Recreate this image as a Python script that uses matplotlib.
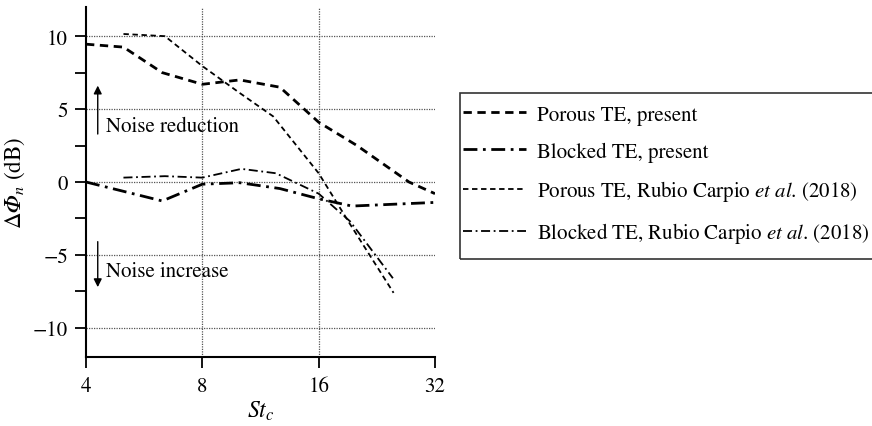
import matplotlib
matplotlib.use('Agg')
import matplotlib.pyplot as plt
from matplotlib.ticker import NullLocator, MultipleLocator
from matplotlib.patches import Rectangle

plt.rcParams['font.family'] = ['STIXGeneral', 'DejaVu Serif']
plt.rcParams['mathtext.fontset'] = 'stix'
plt.rcParams['font.size'] = 15

# porous / blocked TE, present measurements
st_porous = [4.0, 5.0, 6.3, 8.0, 10.0, 12.7, 16.0, 20.1, 27.4, 32.0]
dphi_porous = [9.45, 9.25, 7.5, 6.7, 7.0, 6.5, 4.1, 2.5, 0.0, -0.8]

st_blocked = [4.0, 6.3, 8.0, 10.0, 12.7, 16.0, 19.5, 32.0]
dphi_blocked = [0.0, -1.3, -0.15, -0.05, -0.45, -1.15, -1.65, -1.4]

# Rubio Carpio et al. (2018)
st_porous_rc = [5.0, 6.4, 8.0, 10.0, 12.2, 16.0, 19.3, 25.0]
dphi_porous_rc = [10.15, 10.0, 7.95, 6.1, 4.5, 0.6, -2.9, -7.6]

st_blocked_rc = [5.0, 6.4, 8.0, 10.1, 12.4, 16.0, 19.3, 24.9]
dphi_blocked_rc = [0.3, 0.4, 0.3, 0.9, 0.6, -0.8, -2.7, -6.6]

xticks = [4, 8, 16, 32]
yticks = [-10, -5, 0, 5, 10]

fig = plt.figure(figsize=(8.72, 4.27), dpi=100)
ax = fig.add_axes([86 / 872, 69 / 427, 349 / 872, 350 / 427])

l1, = ax.plot(st_porous, dphi_porous, color='black', lw=2.0, dashes=(3, 2),
              label='Porous TE, present')
l2, = ax.plot(st_blocked, dphi_blocked, color='black', lw=2.0, dashes=(5, 2, 1, 2),
              label='Blocked TE, present')
l3, = ax.plot(st_porous_rc, dphi_porous_rc, color='black', lw=1.3, dashes=(3, 2),
              label='Porous TE, Rubio Carpio $\\it{et\\ al}$. (2018)')
l4, = ax.plot(st_blocked_rc, dphi_blocked_rc, color='black', lw=1.3, dashes=(5, 2, 1, 2),
              label='Blocked TE, Rubio Carpio $\\it{et\\ al}$. (2018)')

ax.set_xscale('log', base=2)
ax.set_xlim(4, 32)
ax.set_ylim(-12, 12)
ax.set_xticks(xticks, [str(t) for t in xticks])
ax.xaxis.set_minor_locator(NullLocator())
ax.set_yticks(yticks, ['\u2212' + str(-t) if t < 0 else str(t) for t in yticks])
ax.yaxis.set_minor_locator(MultipleLocator(2.5))

ax.grid(True, which='major', color='#555555', linestyle=(0, (1, 1)), lw=0.9)
ax.get_xgridlines()[0].set_visible(False)
ax.get_xgridlines()[-1].set_visible(False)

for s in ['top', 'right']:
    ax.spines[s].set_visible(False)
for s in ['left', 'bottom']:
    ax.spines[s].set_linewidth(1.5)
ax.tick_params(which='both', direction='out', width=1.3)
ax.tick_params(axis='y', which='both', length=8, pad=5)
ax.tick_params(axis='x', length=8, pad=6)

ax.set_xlabel('$St_c$', fontsize=17, labelpad=2)
# italic capital phi from the math alphanumeric block
ax.set_ylabel('\u0394\U0001D6F7$_n$ (dB)', fontsize=16.5, labelpad=4)

ax.annotate('', xy=(4.29, 6.8), xytext=(4.29, 3.1),
            arrowprops=dict(arrowstyle='-|>', color='black', lw=1, mutation_scale=12))
ax.text(4.5, 3.8, 'Noise reduction', va='center', ha='left', fontsize=15)
ax.annotate('', xy=(4.29, -7.4), xytext=(4.29, -3.9),
            arrowprops=dict(arrowstyle='-|>', color='black', lw=1, mutation_scale=12))
ax.text(4.5, -6.1, 'Noise increase', va='center', ha='left', fontsize=15)

# legend box drawn separately so the padding matches
fig.patches.append(Rectangle((460 / 872, 167 / 427), 0.6, 166 / 427, transform=fig.transFigure,
                             fill=False, edgecolor='#333333', lw=1.2))
leg = fig.legend(handles=[l1, l2, l3, l4], loc='upper left',
                 bbox_to_anchor=(463 / 872, 321 / 427), borderaxespad=0, borderpad=0,
                 frameon=False, handlelength=3.0, labelspacing=0.8, fontsize=15,
                 handletextpad=0.55)

fig.savefig('out.png', dpi=100)
